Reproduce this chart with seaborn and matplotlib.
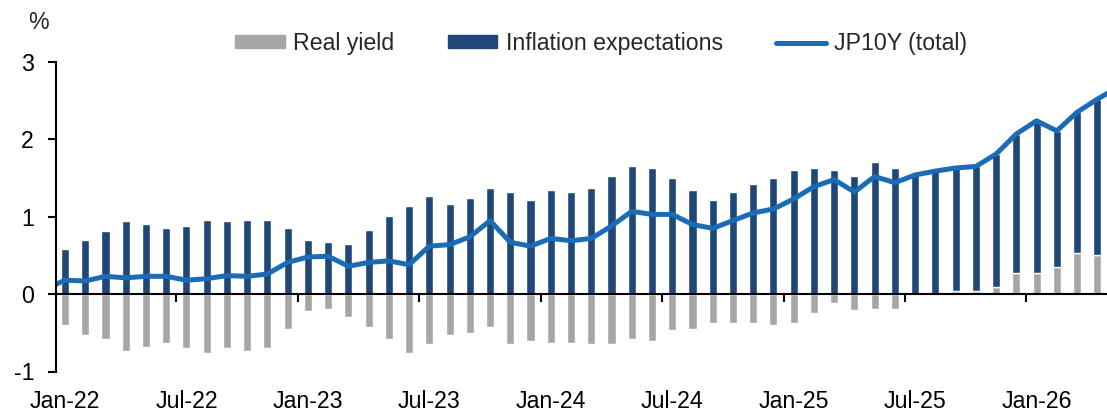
"""JP10Y decomposition: real yield vs inflation expectations, monthly bars + total line."""

import numpy as np
import pandas as pd
import matplotlib
matplotlib.use("Agg")
import matplotlib.pyplot as plt
import seaborn as sns
from matplotlib.patches import Patch
from matplotlib.lines import Line2D

# Dec-21 and May-26 sit just outside the visible window (line runs off both edges)
months = pd.date_range("2021-12-01", "2026-05-01", freq="MS").strftime("%b-%y").tolist()

real_yield = [
    -0.45,
    -0.40, -0.53, -0.58, -0.73, -0.68, -0.63, -0.70, -0.76, -0.70, -0.73, -0.70, -0.45,
    -0.22, -0.19, -0.29, -0.42, -0.58, -0.76, -0.65, -0.53, -0.50, -0.42, -0.65, -0.60,
    -0.63, -0.63, -0.65, -0.65, -0.58, -0.60, -0.47, -0.45, -0.37, -0.37, -0.37, -0.40,
    -0.37, -0.24, -0.12, -0.21, -0.19, -0.19, 0.00, 0.00, 0.04, 0.04, 0.09, 0.27,
    0.27, 0.35, 0.53, 0.51,
    0.55,
]
inflation_exp = [
    0.51,
    0.58, 0.70, 0.81, 0.94, 0.91, 0.86, 0.88, 0.96, 0.94, 0.96, 0.96, 0.86,
    0.70, 0.68, 0.65, 0.83, 1.01, 1.14, 1.27, 1.17, 1.24, 1.37, 1.32, 1.22,
    1.35, 1.32, 1.37, 1.53, 1.65, 1.63, 1.50, 1.35, 1.22, 1.32, 1.42, 1.50,
    1.60, 1.63, 1.60, 1.53, 1.71, 1.63, 1.54, 1.59, 1.59, 1.61, 1.72, 1.80,
    1.97, 1.76, 1.82, 2.01,
    2.12,
]
tick_labels = ["Jan-22", "Jul-22", "Jan-23", "Jul-23", "Jan-24",
               "Jul-24", "Jan-25", "Jul-25", "Jan-26"]

GREY = "#a6a6a6"
NAVY = "#1f4778"
BLUE = "#1b6cb6"
FS = 16.7

sns.set_theme(style="white")
plt.rcParams["font.family"] = ["Liberation Sans", "DejaVu Sans"]
plt.rcParams["axes.unicode_minus"] = False

df = pd.DataFrame({"month": months, "real": real_yield, "infl": inflation_exp})
df["pos"] = np.arange(len(df)) - 1          # Jan-22 -> 0
df["total"] = df["real"] + df["infl"]
df["infl_base"] = df["real"].clip(lower=0)  # stack on top of positive real yield

W, H = 1107, 411
fig = plt.figure(figsize=(W / 100, H / 100), dpi=100)
ax = fig.add_axes([56 / W, 1 - 371.5 / H, 1 - 56 / W, (371.5 - 62) / H])

sns.barplot(data=df, x="pos", y="real", native_scale=True, width=0.4,
            color=GREY, saturation=1, errorbar=None, ax=ax)
sns.barplot(data=df, x="pos", y="infl", native_scale=True, width=0.4,
            bottom=df["infl_base"].to_numpy(),
            color=NAVY, saturation=1, errorbar=None, ax=ax)
sns.lineplot(data=df, x="pos", y="total", color=BLUE, lw=3.6,
             solid_joinstyle="round", ax=ax)

ax.set_xlim(-0.445, 51.48)
ax.set_ylim(-1, 3)
ax.set_xlabel("")
ax.set_ylabel("")

# month labels along the bottom, no tick marks
tick_pos = [months.index(t) - 1 for t in tick_labels]
ax.set_xticks(tick_pos, tick_labels)
ax.tick_params(axis="x", bottom=False, length=0, pad=13.5,
               labelsize=FS, labelcolor="black")

ax.set_yticks([-1, 0, 1, 2, 3])
ax.tick_params(axis="y", left=True, length=5.8, width=1.5, pad=10,
               labelsize=FS, color="black", labelcolor="black")

for side in ["top", "right", "bottom"]:
    ax.spines[side].set_visible(False)
ax.spines["left"].set_color("black")
ax.spines["left"].set_linewidth(1.5)

# zero line with half-year boundary ticks
sec = ax.secondary_xaxis(0.25)
sec.set_xticks([p - 0.5 for p in tick_pos])
sec.tick_params(axis="x", bottom=True, length=5.8, width=1.5,
                color="black", labelbottom=False)
sec.spines["bottom"].set_color("black")
sec.spines["bottom"].set_linewidth(1.5)
sec.set_zorder(3)

handles = [
    Patch(color=GREY, label="Real yield"),
    Patch(color=NAVY, label="Inflation expectations"),
    Line2D([], [], color=BLUE, lw=3.6, solid_capstyle="round", label="JP10Y (total)"),
]
fig.legend(handles=handles, loc="center", bbox_to_anchor=(0.543, 1 - 43.5 / H),
           ncol=3, frameon=False, fontsize=FS, handlelength=2.15, handleheight=0.5,
           handletextpad=0.35, columnspacing=2.3)

fig.text(38 / W, 1 - 22.5 / H, "%", ha="center", va="center", fontsize=FS)

fig.savefig("out.png", dpi=100)
plt.close(fig)
